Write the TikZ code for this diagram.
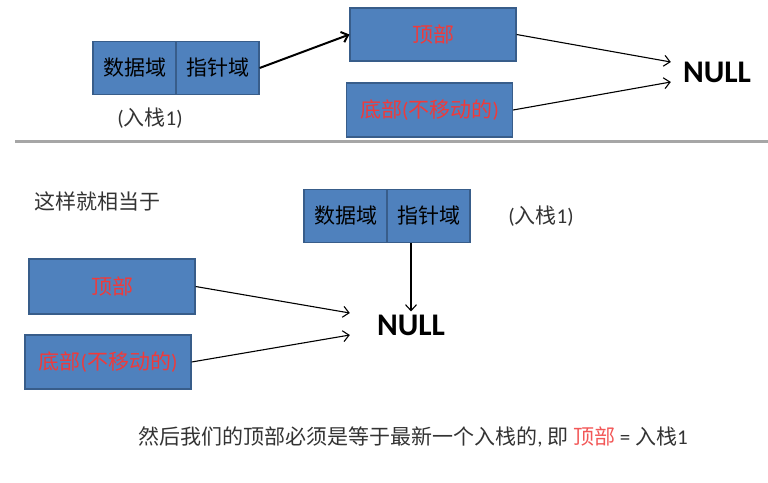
\documentclass[tikz,border=0pt]{standalone}
\usepackage{fontspec}
\setmainfont{Carlito}[Numbers=Lining]
\newfontfamily\cjk{Noto Sans CJK SC}
\newcommand{\zh}[1]{{\cjk #1}}
\usetikzlibrary{positioning,arrows.meta}
\definecolor{boxblue}{HTML}{4F81BD}
\definecolor{boxedge}{HTML}{385D8A}
\definecolor{stackred}{HTML}{F03A3A}
\definecolor{notegray}{HTML}{333333}

\begin{document}
\begin{tikzpicture}[x=1pt, y=-1pt,
    field/.style={draw=boxedge, fill=boxblue, line width=1.2pt, minimum width=83pt, minimum height=53pt, inner sep=0pt, font=\fontsize{21}{21}\selectfont},
    block/.style={draw=boxedge, fill=boxblue, line width=1.2pt, minimum width=166pt, minimum height=54pt, inner sep=0pt, text=stackred, font=\fontsize{21}{21}\selectfont},
    arrow/.style={-{Straight Barb[length=6pt, width=11pt]}, line width=1.1pt},
    null/.style={font=\bfseries\fontsize{31.5}{31.5}\selectfont, inner sep=3pt},
    note/.style={text=notegray, font=\fontsize{21}{21}\selectfont},
]
\useasboundingbox (0,0) rectangle (768,482);

% upper part: push of node 1
\node[field] (d1) at (134.5,68) {\zh{数据域}};
\node[field, right=-1.2pt of d1] (p1) {\zh{指针域}};
\node[note] (push1) at (150,118) {(\zh{入栈}1)};
\node[block, minimum height=53pt] (top1) at (433,34.5) {\zh{顶部}};
\node[block] (bot1) at (429.5,110) {\zh{底部}(\zh{不移动的})};
\node[null] (null1) at (717,72) {NULL};
\draw[arrow, line width=2pt] (p1.east) -- (top1.west);
\draw[arrow] (top1.east) -- ([xshift=-9pt, yshift=10pt]null1.west);
\draw[arrow] (bot1.east) -- ([xshift=-9pt, yshift=-10pt]null1.west);

% separator
\coordinate (sepl) at (15,141.5);
\coordinate (sepr) at (768,141.5);
\draw[line width=3pt, color=black!35] (sepl) -- (sepr);

% lower part: equivalent picture
\node[note, anchor=west] (same) at (31,201) {\zh{这样就相当于}};
\node[field] (d2) at (345.5,216) {\zh{数据域}};
\node[field, right=-1.2pt of d2] (p2) {\zh{指针域}};
\node[note] (push2) at (541,216) {(\zh{入栈}1)};
\node[block, minimum height=55pt] (top2) at (112,286.5) {\zh{顶部}};
\node[block] (bot2) at (108,362) {\zh{底部}(\zh{不移动的})};
\node[null] (null2) at (411,325) {NULL};
\draw[arrow] (p2.south -| null2.north) -- (null2.north);
\draw[arrow] (top2.east) -- ([xshift=-24pt, yshift=12pt]null2.west);
\draw[arrow] (bot2.east) -- ([xshift=-24pt, yshift=-10pt]null2.west);

\node[note] (rule) at (413,437) {\zh{然后我们的顶部必须是等于最新一个入栈的}, \zh{即} \textcolor{stackred!85}{\zh{顶部}} = \zh{入栈}1};
\end{tikzpicture}
\end{document}
